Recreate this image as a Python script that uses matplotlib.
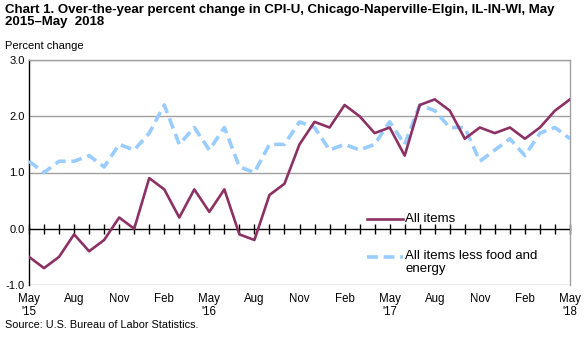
import matplotlib
matplotlib.use("Agg")
import matplotlib.pyplot as plt
import matplotlib.transforms as mtransforms
from matplotlib.lines import Line2D

plt.rcParams['font.family'] = ['Liberation Sans', 'DejaVu Sans']

months = ["May 2015", "Jun 2015", "Jul 2015", "Aug 2015", "Sep 2015", "Oct 2015", "Nov 2015", "Dec 2015",
          "Jan 2016", "Feb 2016", "Mar 2016", "Apr 2016", "May 2016", "Jun 2016", "Jul 2016", "Aug 2016",
          "Sep 2016", "Oct 2016", "Nov 2016", "Dec 2016",
          "Jan 2017", "Feb 2017", "Mar 2017", "Apr 2017", "May 2017", "Jun 2017", "Jul 2017", "Aug 2017",
          "Sep 2017", "Oct 2017", "Nov 2017", "Dec 2017",
          "Jan 2018", "Feb 2018", "Mar 2018", "Apr 2018", "May 2018"]

all_items = [-0.5, -0.7, -0.5, -0.1, -0.4, -0.2, 0.2, 0.0,
             0.9, 0.7, 0.2, 0.7, 0.3, 0.7, -0.1, -0.2, 0.6, 0.8, 1.5, 1.9,
             1.8, 2.2, 2.0, 1.7, 1.8, 1.3, 2.2, 2.3, 2.1, 1.6, 1.8, 1.7,
             1.8, 1.6, 1.8, 2.1, 2.3]

core = [1.2, 1.0, 1.2, 1.2, 1.3, 1.1, 1.5, 1.4,
        1.7, 2.2, 1.5, 1.8, 1.4, 1.8, 1.1, 1.0, 1.5, 1.5, 1.9, 1.8,
        1.4, 1.5, 1.4, 1.5, 1.9, 1.5, 2.2, 2.1, 1.8, 1.8, 1.2, 1.4,
        1.6, 1.3, 1.7, 1.8, 1.6]

tick_labels = ["May\n'15", "Aug", "Nov", "Feb", "May\n'16", "Aug", "Nov", "Feb",
               "May\n'17", "Aug", "Nov", "Feb", "May\n'18"]
y_ticks = [-1.0, 0.0, 1.0, 2.0, 3.0]

series_labels = ["All items", "All items less food and\nenergy"]

purple = '#8C3163'
blue = '#99CCFF'

fig = plt.figure(figsize=(5.88, 3.37), dpi=100)
ax = fig.add_axes([29/588, 52/337, 541/588, 225/337])

x = list(range(len(months)))
ax.set_xlim(0, len(months) - 1)
ax.set_ylim(-1.0, 3.0)

for yv in [1.0, 2.0, 3.0, -1.0]:
    ax.axhline(yv, color='#A0A0A0', lw=1.0, zorder=1)

ax.plot(x, core, color=blue, lw=2.6, dashes=(3.0, 1.6), zorder=3, solid_capstyle='butt')
ax.plot(x, all_items, color=purple, lw=1.9, zorder=4)

for s in ['top', 'right']:
    ax.spines[s].set_color('#A0A0A0')
    ax.spines[s].set_linewidth(1.0)
ax.spines['left'].set_color('black')
ax.spines['left'].set_linewidth(1.0)
ax.spines['bottom'].set_position(('data', 0))
ax.spines['bottom'].set_color('black')
ax.spines['bottom'].set_linewidth(1.0)
ax.spines['bottom'].set_zorder(2)

ax.set_xticks(x)
ax.tick_params(axis='x', direction='inout', length=7, width=1, color='black', labelbottom=False)
ax.set_yticks(y_ticks)
ax.set_yticklabels([f"{v:.1f}" for v in y_ticks], fontsize=8)
ax.tick_params(axis='y', length=0, pad=3)

trans = mtransforms.blended_transform_factory(ax.transData, ax.transAxes)
for i, lab in enumerate(tick_labels):
    ax.text(i * 3, -0.035, lab, transform=trans, ha='center', va='top', fontsize=8.3,
            linespacing=1.1)

# legend
y1 = (285 - 219) / 225
y2 = (285 - 257) / 225
ax.add_line(Line2D([338/541, 374/541], [y1, y1], transform=ax.transAxes,
                   color=purple, lw=1.9))
ax.text(376/541, y1, series_labels[0], transform=ax.transAxes, va='center',
        ha='left', fontsize=9.5)
ax.add_line(Line2D([338/541, 374/541], [y2, y2], transform=ax.transAxes,
                   color=blue, lw=2.6, dashes=(3.0, 1.6)))
ax.text(376/541, y2 + 0.03, series_labels[1], transform=ax.transAxes, va='top',
        ha='left', fontsize=9.5, linespacing=1.1)

fig.text(5/588, 1 - 4/337, "Chart 1. Over-the-year percent change in CPI-U, Chicago-Naperville-Elgin, IL-IN-WI, May\n2015\u2013May  2018",
         ha='left', va='top', fontsize=9.5, fontweight='bold', linespacing=1.05)
fig.text(5/588, 1 - 41/337, "Percent change", ha='left', va='top', fontsize=8)
fig.text(5/588, 1 - 320/337, "Source: U.S. Bureau of Labor Statistics.", ha='left', va='top', fontsize=7.8)

fig.savefig("out.png", dpi=100)
